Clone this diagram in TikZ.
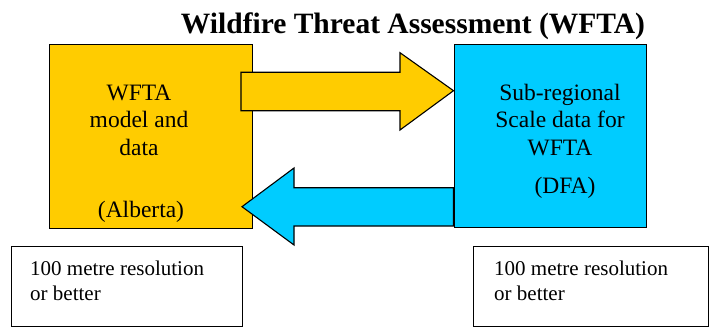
\documentclass[tikz,border=0pt]{standalone}
\usepackage{fontspec}
\setmainfont{Liberation Serif}
\usetikzlibrary{positioning}
\definecolor{wftaorange}{HTML}{FFCC00}
\definecolor{wftablue}{HTML}{00CCFF}
\tikzset{
  bigbox/.style={draw,line width=1.3pt,inner sep=0pt},
  notebox/.style={draw,line width=1.1pt,inner sep=0pt,minimum width=231pt,minimum height=80pt},
  boxtext/.style={align=center,inner sep=0pt,font=\fontsize{23.5}{27.5}\selectfont},
  notetext/.style={align=left,inner sep=0pt,font=\fontsize{21}{25}\selectfont},
  blockarrow/.style={draw,line width=1.1pt,line join=miter}
}

\begin{document}
\begin{tikzpicture}[x=1pt,y=-1pt]
  \useasboundingbox (0,0) rectangle (710,329);

  \node[font=\bfseries\fontsize{29.5}{33}\selectfont,anchor=base] (title) at (413,33.5) {Wildfire Threat Assessment (WFTA)};

  \node[bigbox,fill=wftaorange,minimum width=202.5pt,minimum height=184pt,anchor=north west] (model) at (49,44) {};
  \node[bigbox,fill=wftablue,minimum width=192.5pt,minimum height=183pt,anchor=north west] (subreg) at (453.5,44) {};

  % block arrows between the two boxes
  \coordinate (tipright) at (subreg.west |- 0,90.7);
  \coordinate (tipleft) at (242,206.7);
  \draw[blockarrow,fill=wftaorange] (241,72.3) -- (400,72.3) -- (400,52.7) -- (tipright)
    -- (400,130) -- (400,110.7) -- (241,110.7) -- cycle;
  \draw[blockarrow,fill=wftablue] (subreg.west |- 0,187.7) -- (294,187.7) -- (294,168) -- (tipleft)
    -- (294,245) -- (294,226) -- (subreg.west |- 0,226) -- cycle;

  \node[boxtext,anchor=base] (modeltext) at (139,155) {WFTA\\model and\\data};
  \node[boxtext,anchor=base] (alberta) at (141,217) {(Alberta)};
  \node[boxtext,anchor=base] (subregtext) at (560,155) {Sub-regional\\Scale data for\\WFTA};
  \node[boxtext,anchor=base] (dfa) at (565,193) {(DFA)};

  \node[notebox,anchor=north west] (resleft) at (10.5,245.7) {};
  \node[notebox,minimum width=235.5pt,anchor=north west] (resright) at (472.5,245.7) {};
  \node[notetext,anchor=base west] at (30,300) {100 metre resolution\\or better};
  \node[notetext,anchor=base west] at (494,300) {100 metre resolution\\or better};
\end{tikzpicture}
\end{document}
